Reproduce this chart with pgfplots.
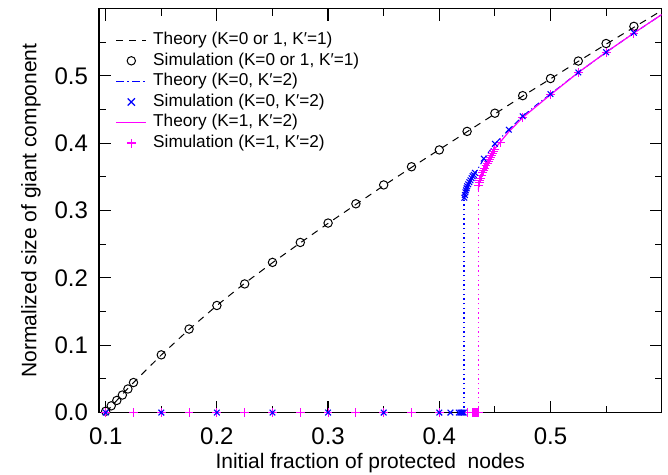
\documentclass[border=0pt]{standalone}
\usepackage{fontspec}
\setmainfont{Liberation Sans}
\usepackage{pgfplots}
\pgfplotsset{compat=1.18}
\definecolor{mblue}{RGB}{0,0,255}
\definecolor{mmag}{RGB}{255,0,255}
\begin{document}
\begin{tikzpicture}
\begin{axis}[
  width=281.3pt, height=202pt, scale only axis,
  xmin=0.094, xmax=0.6, ymin=0, ymax=0.6,
  axis line style={line width=0.6pt},
  tick style={line width=0.6pt, black},
  tick align=inside,
  xtick={0.1,0.2,0.3,0.4,0.5},
  ytick={0,0.1,0.2,0.3,0.4,0.5},
  minor xtick={0.15,0.25,0.35,0.45,0.55},
  minor ytick={0.05,0.15,0.25,0.35,0.45,0.55},
  major tick length=6pt, minor tick length=3.5pt,
  /pgf/number format/assume math mode=true,
  xticklabel style={/pgf/number format/.cd, fixed, fixed zerofill, precision=1, /tikz/.cd, font=\fontsize{12}{14}\selectfont, yshift=-4pt},
  yticklabel style={/pgf/number format/.cd, fixed, fixed zerofill, precision=1, /tikz/.cd, font=\fontsize{12}{14}\selectfont, xshift=-2pt},
  xlabel={Initial fraction of protected\ \ nodes},
  ylabel={Normalized size of giant component},
  xlabel style={at={(axis description cs:0.482,-0.139)}, anchor=base, font=\fontsize{10.5}{12.5}\selectfont},
  ylabel style={at={(axis description cs:-0.121,0.5)}, anchor=center, font=\fontsize{10.5}{12.5}\selectfont},
  legend style={draw=none, fill=none, at={(axis description cs:0,1)}, anchor=north west, xshift=8pt, yshift=-10.5pt, font=\fontsize{8.6}{10}\selectfont, row sep=0pt, inner sep=0pt, column sep=2pt, nodes={inner sep=1pt, text height=6.3pt, text depth=2pt}},
  legend cell align=left,
]
\addlegendimage{legend image code/.code={\draw[black, line width=0.5pt, dash pattern=on 3.5pt off 3pt] (0pt,0pt) -- (15pt,0pt);}}
\addlegendentry{Theory (K=0 or 1, K′=1)}
\addlegendimage{legend image code/.code={\draw[black, line width=0.5pt] (7.5pt,0pt) circle[radius=2.1pt];}}
\addlegendentry{Simulation (K=0 or 1, K′=1)}
\addlegendimage{legend image code/.code={\draw[mblue, line width=0.9pt, dash pattern=on 4pt off 1.5pt on 1pt off 1.5pt] (0pt,0pt) -- (15pt,0pt);}}
\addlegendentry{Theory (K=0, K′=2)}
\addlegendimage{legend image code/.code={\draw[mblue, line width=0.6pt] (5.7pt,-1.8pt) -- (9.3pt,1.8pt) (5.7pt,1.8pt) -- (9.3pt,-1.8pt);}}
\addlegendentry{Simulation (K=0, K′=2)}
\addlegendimage{legend image code/.code={\draw[mmag, line width=0.7pt] (0pt,0pt) -- (15pt,0pt);}}
\addlegendentry{Theory (K=1, K′=2)}
\addlegendimage{legend image code/.code={\draw[mmag, line width=0.75pt] (5.3pt,0pt) -- (9.7pt,0pt) (7.5pt,-2.2pt) -- (7.5pt,2.2pt);}}
\addlegendentry{Simulation (K=1, K′=2)}

% K'=1 theory
\addplot[forget plot, black, line width=0.5pt, dash pattern=on 3.5pt off 3pt] coordinates {
(0.1,0) (0.105,0.009) (0.11,0.018) (0.115,0.027) (0.12,0.036) (0.125,0.0445) (0.15,0.0855) (0.175,0.1235) (0.2,0.159) (0.225,0.192) (0.25,0.2225) (0.275,0.252) (0.3,0.281) (0.325,0.309) (0.35,0.337) (0.375,0.364) (0.4,0.3905) (0.425,0.417) (0.45,0.4435) (0.475,0.470) (0.5,0.4955) (0.525,0.5215) (0.55,0.547) (0.575,0.572) (0.6,0.597)};
% K'=1 simulation
\addplot[forget plot, only marks, mark=o, mark size=2.1pt, black, mark options={line width=0.5pt}] coordinates {
(0.1,0.002) (0.105,0.01) (0.11,0.018) (0.115,0.026) (0.12,0.035) (0.125,0.0446) (0.15,0.0857) (0.175,0.124) (0.2,0.159) (0.225,0.191) (0.25,0.223) (0.275,0.2526) (0.3,0.2814) (0.325,0.310) (0.35,0.338) (0.375,0.365) (0.4,0.390) (0.425,0.4175) (0.45,0.4445) (0.475,0.4706) (0.5,0.496) (0.525,0.522) (0.55,0.548) (0.575,0.5735)};
% vertical jumps
\addplot[forget plot, mblue, line width=0.7pt, dash pattern=on 0.7pt off 1.65pt] coordinates {(0.4222,0) (0.4222,0.316)};
\addplot[forget plot, mmag, line width=0.7pt, dash pattern=on 0.7pt off 1.65pt] coordinates {(0.4351,0) (0.4351,0.331)};
% K=0,K'=2 theory
\addplot[forget plot, mblue, line width=0.5pt, dash pattern=on 3pt off 1.5pt on 0.6pt off 1.5pt] coordinates {
(0.4222,0.316) (0.4225,0.3195) (0.423,0.323) (0.424,0.329) (0.425,0.334) (0.427,0.341) (0.43,0.350) (0.435,0.363) (0.44,0.3765) (0.445,0.388) (0.45,0.399) (0.4625,0.420) (0.475,0.440) (0.4875,0.457) (0.5,0.473) (0.525,0.505) (0.55,0.535) (0.575,0.5635) (0.6,0.591)};
% K=1,K'=2 theory
\addplot[forget plot, mmag, line width=0.6pt] coordinates {
(0.4351,0.331) (0.4355,0.337) (0.436,0.342) (0.437,0.348) (0.438,0.353) (0.44,0.361) (0.442,0.368) (0.445,0.377) (0.448,0.386) (0.45,0.392) (0.455,0.402) (0.4625,0.417) (0.475,0.438) (0.5,0.472) (0.525,0.505) (0.55,0.535) (0.575,0.5635) (0.6,0.591)};
% K=1,K'=2 simulation
\addplot[forget plot, only marks, mark=+, mark size=2.2pt, mmag, mark options={line width=0.55pt}] coordinates {
(0.1,0) (0.125,0) (0.15,0) (0.175,0) (0.2,0) (0.225,0) (0.25,0) (0.275,0) (0.3,0) (0.325,0) (0.35,0) (0.375,0) (0.4,0) (0.425,0) (0.43,0) (0.431,0) (0.432,0) (0.433,0) (0.434,0) (0.435,0)
(0.4355,0.337) (0.436,0.341) (0.4365,0.344) (0.437,0.347) (0.438,0.352) (0.439,0.356) (0.44,0.360) (0.441,0.363) (0.442,0.367) (0.443,0.370) (0.444,0.373) (0.445,0.376) (0.446,0.379) (0.447,0.382) (0.448,0.385) (0.449,0.388) (0.45,0.391) (0.455,0.401) (0.475,0.438) (0.5,0.472) (0.525,0.505) (0.55,0.535) (0.575,0.563)};
% K=0,K'=2 simulation
\addplot[forget plot, only marks, mark=x, mark size=2pt, mblue, mark options={line width=0.55pt}] coordinates {
(0.1,0) (0.15,0) (0.2,0) (0.25,0) (0.3,0) (0.35,0) (0.4,0) (0.41,0) (0.4175,0) (0.419,0) (0.42,0) (0.421,0) (0.422,0)
(0.4225,0.319) (0.423,0.323) (0.4235,0.327) (0.424,0.330) (0.4245,0.333) (0.425,0.336) (0.426,0.339) (0.427,0.342) (0.428,0.345) (0.429,0.348) (0.43,0.351) (0.431,0.353) (0.432,0.356) (0.44,0.377) (0.45,0.399) (0.4625,0.420) (0.475,0.440) (0.5,0.473) (0.525,0.505) (0.55,0.535) (0.575,0.564)};
\end{axis}
\pgfresetboundingbox
\path ([shift={(-49.5pt,-31.15pt)}]current axis.south west) rectangle ([shift={(3.15pt,4.25pt)}]current axis.north east);
\end{tikzpicture}
\end{document}
